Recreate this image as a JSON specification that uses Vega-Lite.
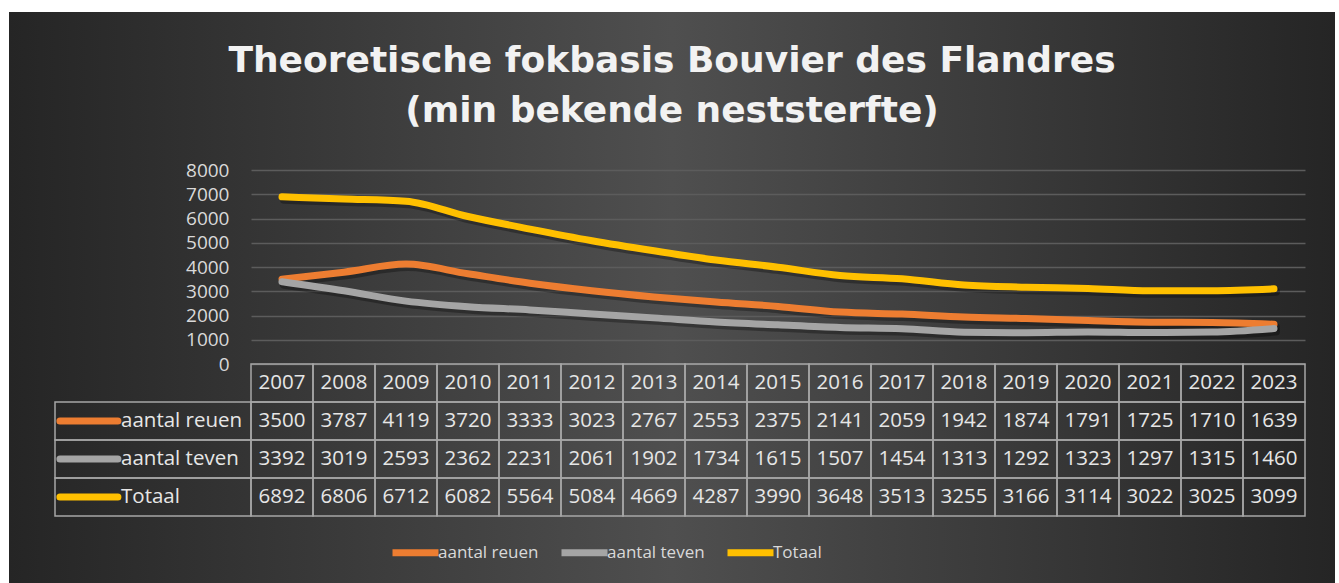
{
  "$schema": "https://vega.github.io/schema/vega-lite/v6.json",
  "width": 1326,
  "height": 571,
  "autosize": {"type": "none"},
  "padding": {"left": 9, "top": 12, "right": 4, "bottom": 0},
  "background": "#ffffff",
  "config": {
    "view": {
      "stroke": null,
      "fill": {
        "gradient": "linear",
        "x1": 0, "y1": 0.5, "x2": 1, "y2": 0.5,
        "stops": [
          {"offset": 0, "color": "#252525"},
          {"offset": 0.5, "color": "#4f4f4f"},
          {"offset": 1, "color": "#252525"}
        ]
      }
    },
    "font": "Open Sans"
  },
  "title": {
    "text": ["Theoretische fokbasis Bouvier des Flandres", "(min bekende neststerfte)"],
    "anchor": "middle",
    "frame": "group",
    "orient": "top",
    "offset": -118,
    "font": "DejaVu Sans",
    "fontSize": 36,
    "fontWeight": "bold",
    "color": "#f2f2f2",
    "lineHeight": 50
  },
  "data": {
    "values": [
      {"year": "2007", "series": "aantal reuen", "value": 3500},
      {"year": "2008", "series": "aantal reuen", "value": 3787},
      {"year": "2009", "series": "aantal reuen", "value": 4119},
      {"year": "2010", "series": "aantal reuen", "value": 3720},
      {"year": "2011", "series": "aantal reuen", "value": 3333},
      {"year": "2012", "series": "aantal reuen", "value": 3023},
      {"year": "2013", "series": "aantal reuen", "value": 2767},
      {"year": "2014", "series": "aantal reuen", "value": 2553},
      {"year": "2015", "series": "aantal reuen", "value": 2375},
      {"year": "2016", "series": "aantal reuen", "value": 2141},
      {"year": "2017", "series": "aantal reuen", "value": 2059},
      {"year": "2018", "series": "aantal reuen", "value": 1942},
      {"year": "2019", "series": "aantal reuen", "value": 1874},
      {"year": "2020", "series": "aantal reuen", "value": 1791},
      {"year": "2021", "series": "aantal reuen", "value": 1725},
      {"year": "2022", "series": "aantal reuen", "value": 1710},
      {"year": "2023", "series": "aantal reuen", "value": 1639},
      {"year": "2007", "series": "aantal teven", "value": 3392},
      {"year": "2008", "series": "aantal teven", "value": 3019},
      {"year": "2009", "series": "aantal teven", "value": 2593},
      {"year": "2010", "series": "aantal teven", "value": 2362},
      {"year": "2011", "series": "aantal teven", "value": 2231},
      {"year": "2012", "series": "aantal teven", "value": 2061},
      {"year": "2013", "series": "aantal teven", "value": 1902},
      {"year": "2014", "series": "aantal teven", "value": 1734},
      {"year": "2015", "series": "aantal teven", "value": 1615},
      {"year": "2016", "series": "aantal teven", "value": 1507},
      {"year": "2017", "series": "aantal teven", "value": 1454},
      {"year": "2018", "series": "aantal teven", "value": 1313},
      {"year": "2019", "series": "aantal teven", "value": 1292},
      {"year": "2020", "series": "aantal teven", "value": 1323},
      {"year": "2021", "series": "aantal teven", "value": 1297},
      {"year": "2022", "series": "aantal teven", "value": 1315},
      {"year": "2023", "series": "aantal teven", "value": 1460},
      {"year": "2007", "series": "Totaal", "value": 6892},
      {"year": "2008", "series": "Totaal", "value": 6806},
      {"year": "2009", "series": "Totaal", "value": 6712},
      {"year": "2010", "series": "Totaal", "value": 6082},
      {"year": "2011", "series": "Totaal", "value": 5564},
      {"year": "2012", "series": "Totaal", "value": 5084},
      {"year": "2013", "series": "Totaal", "value": 4669},
      {"year": "2014", "series": "Totaal", "value": 4287},
      {"year": "2015", "series": "Totaal", "value": 3990},
      {"year": "2016", "series": "Totaal", "value": 3648},
      {"year": "2017", "series": "Totaal", "value": 3513},
      {"year": "2018", "series": "Totaal", "value": 3255},
      {"year": "2019", "series": "Totaal", "value": 3166},
      {"year": "2020", "series": "Totaal", "value": 3114},
      {"year": "2021", "series": "Totaal", "value": 3022},
      {"year": "2022", "series": "Totaal", "value": 3025},
      {"year": "2023", "series": "Totaal", "value": 3099}
    ]
  },
  "resolve": {"scale": {"x": "independent", "y": "independent"}},
  "layer": [
    {
      "encoding": {
        "x": {
          "field": "year", "type": "ordinal",
          "scale": {"type": "point", "range": [242, 1296], "padding": 0.5},
          "axis": null
        },
        "y": {
          "field": "value", "type": "quantitative",
          "scale": {"domain": [0, 8000], "range": [352, 158], "nice": false, "zero": true},
          "axis": {
            "orient": "left",
            "offset": -242,
            "values": [0, 1000, 2000, 3000, 4000, 5000, 6000, 7000, 8000],
            "format": "d",
            "domain": false,
            "ticks": false,
            "labelPadding": 22,
            "labelFont": "Open Sans",
            "labelFontSize": 19,
            "labelColor": "#d9d9d9",
            "labelOverlap": false,
            "labelFlush": false,
            "grid": true,
            "gridColor": "#5c5c5c",
            "gridWidth": 1.5,
            "title": null
          }
        }
      },
      "layer": [
        {
          "mark": {"type": "line", "color": "#000000", "opacity": 0.3, "strokeWidth": 8, "strokeCap": "round", "strokeJoin": "round", "interpolate": "monotone", "yOffset": 3, "xOffset": 2},
          "encoding": {"detail": {"field": "series", "type": "nominal"}}
        },
        {
          "mark": {"type": "line", "strokeWidth": 7, "strokeCap": "round", "strokeJoin": "round", "interpolate": "monotone"},
          "encoding": {
            "color": {
              "field": "series", "type": "nominal",
              "scale": {"domain": ["aantal reuen", "aantal teven", "Totaal"], "range": ["#ED7D31", "#A5A5A5", "#FFC000"]},
              "legend": {
                "title": null,
                "orient": "none",
                "legendX": 380,
                "legendY": 514,
                "direction": "horizontal",
                "symbolType": "stroke",
                "symbolSize": 2116,
                "symbolStrokeWidth": 7,
                "labelFont": "Open Sans",
                "labelFontSize": 17,
                "labelColor": "#d9d9d9",
                "labelOffset": -4,
                "columnPadding": 8
              }
            }
          }
        }
      ]
    },
    {
      "encoding": {
        "x": {
          "field": "year", "type": "ordinal",
          "scale": {"type": "band", "range": [242, 1296], "paddingInner": 0, "paddingOuter": 0},
          "axis": null
        }
      },
      "layer": [
        {
          "transform": [{"filter": "datum.series === 'Totaal'"}],
          "mark": {"type": "rect", "fill": "transparent", "stroke": "#a6a6a6", "strokeWidth": 1.5},
          "encoding": {
            "y": {"datum": "header", "type": "nominal", "scale": {"type": "band", "domain": ["header", "aantal reuen", "aantal teven", "Totaal"], "range": [352, 504], "paddingInner": 0, "paddingOuter": 0}, "axis": null}
          }
        },
        {
          "transform": [{"filter": "datum.series === 'Totaal'"}],
          "mark": {"type": "text", "font": "Open Sans", "fontSize": 20.5, "color": "#e6e6e6", "baseline": "middle", "align": "center"},
          "encoding": {
            "y": {"datum": "header", "type": "nominal"},
            "text": {"field": "year", "type": "nominal"}
          }
        },
        {
          "mark": {"type": "rect", "fill": "transparent", "stroke": "#a6a6a6", "strokeWidth": 1.5},
          "encoding": {
            "y": {"field": "series", "type": "nominal"}
          }
        },
        {
          "mark": {"type": "text", "font": "Open Sans", "fontSize": 20.5, "color": "#e6e6e6", "baseline": "middle", "align": "center"},
          "encoding": {
            "y": {"field": "series", "type": "nominal"},
            "text": {"field": "value", "type": "quantitative", "format": "d"}
          }
        }
      ]
    },
    {
      "transform": [{"filter": "datum.year === '2007'"}],
      "encoding": {
        "y": {"field": "series", "type": "nominal", "scale": {"type": "band", "domain": ["header", "aantal reuen", "aantal teven", "Totaal"], "range": [352, 504], "paddingInner": 0, "paddingOuter": 0}, "axis": null}
      },
      "layer": [
        {
          "mark": {"type": "rect", "fill": "transparent", "stroke": "#a6a6a6", "strokeWidth": 1.5},
          "encoding": {
            "x": {"datum": "lbl", "type": "nominal", "scale": {"type": "band", "domain": ["lbl"], "range": [46, 242], "paddingInner": 0, "paddingOuter": 0}, "axis": null}
          }
        },
        {
          "mark": {"type": "point", "shape": "stroke", "size": 3364, "strokeWidth": 7, "strokeCap": "round", "filled": false, "opacity": 1},
          "encoding": {
            "x": {"datum": "lbl", "type": "nominal", "bandPosition": 0.173},
            "color": {"field": "series", "type": "nominal"}
          }
        },
        {
          "mark": {"type": "text", "font": "Open Sans", "fontSize": 20.5, "color": "#e6e6e6", "baseline": "middle", "align": "left"},
          "encoding": {
            "x": {"datum": "lbl", "type": "nominal", "bandPosition": 0.337},
            "text": {"field": "series", "type": "nominal"}
          }
        }
      ]
    }
  ]
}
